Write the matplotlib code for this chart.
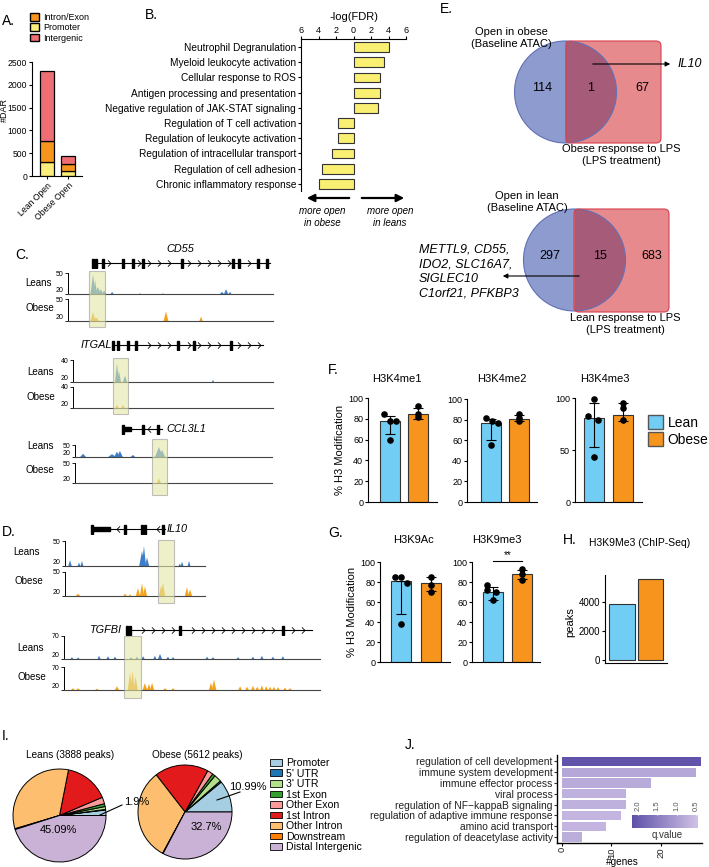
import numpy as np
import matplotlib
matplotlib.use('Agg')
import matplotlib.pyplot as plt
from matplotlib.patches import Patch, Rectangle, Circle, Wedge, FancyBboxPatch
from matplotlib.path import Path
from matplotlib.colors import LinearSegmentedColormap, Normalize
from matplotlib.cm import ScalarMappable

plt.rcParams['font.family'] = ['Liberation Sans', 'DejaVu Sans']
plt.rcParams['axes.linewidth'] = 0.8

W, H = 709, 867

# ---------------- data ----------------
# A: differentially accessible regions
dar_groups = ['Lean Open', 'Obese Open']
dar_promoter = [300, 100]
dar_intron_exon = [460, 160]
dar_intergenic = [1550, 180]

# B: pathway enrichment (positive = more open in leans)
go_terms = ['Neutrophil Degranulation', 'Myeloid leukocyte activation',
            'Cellular response to ROS', 'Antigen processing and presentation',
            'Negative regulation of JAK-STAT signaling',
            'Regulation of T cell activation', 'Regulation of leukocyte activation',
            'Regulation of intracellular transport', 'Regulation of cell adhesion',
            'Chronic inflammatory response']
go_logfdr = [4.1, 3.5, 3.05, 3.05, 2.8, -1.8, -1.75, -2.5, -3.6, -4.0]

# E: venn counts (baseline only, shared, LPS only)
venn_obese = [114, 1, 67]
venn_lean = [297, 15, 683]
obese_shared_genes = ['IL10']
lean_shared_genes = ['METTL9, CD55,', 'IDO2, SLC16A7,', 'SIGLEC10', 'C1orf21, PFKBP3']

# C/D: coverage peaks (position % of locus, height, half width)
cd55_exons = [13.7, 17.1, 26.8, 31.7, 36.6, 55.6, 80.5, 83.4, 92.7, 97.1]
cd55_leans = [(12.2, 48, 1.2), (13.2, 40, 1.0), (14.6, 30, 1.5), (16.1, 27, 1.0),
              (17.6, 25, 1.0), (21.5, 23, 0.7), (35.1, 21, 0.4), (46.3, 21, 0.4),
              (75.1, 23, 1.0), (77.1, 27, 1.0), (79.0, 23, 0.7)]
cd55_obese = [(12.2, 32, 1.2), (13.7, 25, 1.5), (47.8, 33, 1.2), (64.9, 26, 0.8)]

itgal_exons = [22.5, 27.5, 31.5, 52.5, 60.5, 79.0]
itgal_leans = [(22.0, 37, 1.0), (23.0, 30, 1.0), (26.0, 26, 1.0), (70.0, 22, 0.5)]
itgal_obese = [(22.0, 23, 0.8), (25.0, 23, 0.8)]

ccl3l1_exons = [34.5, 42.1]
ccl3l1_leans = [(4.1, 28, 1.5), (18.8, 27, 2.0), (21.3, 33, 1.5), (22.8, 35, 1.5),
                (29.4, 25, 1.2), (42.6, 45, 2.0), (44.2, 38, 1.5)]
ccl3l1_obese = [(42.6, 27, 1.0)]

il10_exons = [42.9, 55.0, 57.1, 70.0]
il10_leans = [(3.6, 27, 1.2), (10.0, 24, 1.0), (12.1, 26, 1.0), (55.0, 38, 2.0),
              (56.4, 44, 1.5), (58.6, 30, 1.5), (82.0, 23, 0.8), (83.6, 25, 1.0),
              (88.6, 26, 1.0)]
il10_obese = [(9.3, 23, 1.5), (42.9, 23, 1.2), (46.4, 22, 1.0), (52.1, 30, 1.5),
              (55.0, 36, 1.5), (57.1, 32, 1.5), (68.6, 33, 1.5), (70.0, 37, 1.5),
              (87.1, 31, 1.5), (89.3, 28, 1.5)]

tgfbi_exons = [25.8, 45.3, 85.5]
tgfbi_leans = [(3.1, 24, .6), (5.5, 23, .6), (13.7, 27, .6), (17.2, 26, .6), (19.9, 25, .6),
               (26.2, 24, .6), (28.5, 25, .6), (30.9, 26, .6), (35.5, 27, .6), (37.5, 31, .8),
               (40.6, 25, .6), (42.6, 24, .6), (55.9, 25, .6), (58.2, 24, .6), (68.0, 24, .6),
               (73.8, 25, .6), (77.3, 27, .6), (81.6, 25, .6), (85.5, 26, .6)]
tgfbi_obese = [(3.5, 24, .7), (5.5, 24, .7), (12.9, 23, .7), (20.7, 28, .8), (25.8, 58, .9),
               (26.8, 62, .8), (28.0, 50, .8), (31.6, 35, .9), (33.2, 33, .8), (34.4, 36, .8),
               (39.5, 24, .7), (42.6, 24, .7), (57.4, 36, .8), (58.6, 43, .9), (68.8, 28, .7),
               (71.5, 27, .7), (73.8, 29, .7), (75.5, 27, .7), (77.3, 30, .7), (79.0, 28, .7),
               (80.5, 27, .7), (82.0, 27, .7), (83.6, 26, .7), (86.3, 25, .7), (88.3, 24, .7)]

# F/G: histone modification
h3_marks = ['H3K4me1', 'H3K4me2', 'H3K4me3', 'H3K9Ac', 'H3K9me3']
lean_mean = [78, 77, 80.5, 81, 70]
lean_lo = [65, 60, 52.5, 48, 62]
lean_hi = [83, 81, 95, 81, 75]
obese_mean = [84.5, 81, 84, 79, 88]
obese_lo = [80, 79, 78, 71, 83]
obese_hi = [90, 84, 95, 85, 92]
lean_pts = [[85, 78, 78, 60], [82, 79, 77, 55], [99, 83, 79, 43], [85, 85, 79, 38], [77, 72, 70, 62]]
obese_pts = [[92, 85, 82], [85, 82, 79], [95, 90, 79], [85, 77, 70], [93, 88, 82]]
lean_jitter = [[-0.22, 0, 0.22, 0], [-0.2, 0.05, 0.25, 0], [0, -0.2, 0.15, 0],
               [-0.2, 0, 0.2, 0], [-0.2, -0.2, 0.1, 0]]

# H: ChIP-seq peaks
chip_groups = ['Lean', 'Obese']
chip_peaks = [3888, 5612]

# I: peak annotation
pie_labels = ['Promoter', "5' UTR", "3' UTR", '1st Exon', 'Other Exon', '1st Intron',
              'Other Intron', 'Downstream', 'Distal Intergenic']
lean_share = [1.9, 0.2, 1.0, 1.0, 2.3, 15.5, 32.7, 0.3, 45.09]
obese_share = [10.99, 0.5, 2.5, 1.0, 2.0, 18.5, 31.6, 0.2, 32.7]

# J: GO enrichment
j_terms = ['regulation of cell development', 'immune system development',
           'immune effector process', 'viral process',
           'regulation of NF\u2212kappaB signaling', 'regulation of adaptive immune response',
           'amino acid transport', 'regulation of deacetylase activity']
j_genes = [28, 27, 18, 13, 13, 12, 9, 4]
j_qvalue = [2.1, 0.85, 0.8, 0.7, 0.7, 0.65, 0.65, 0.75]

# ---------------- colours ----------------
c_intron, c_prom, c_inter = '#F7941D', '#FCEE7A', '#EE6E73'
c_lean, c_obese = '#72CDF4', '#F7941D'
c_leans_trk, c_obese_trk = '#3D7EC6', '#F5A31E'
pie_colors = ['#A6CEE3', '#1F78B4', '#B2DF8A', '#33A02C', '#FB9A99', '#E31A1C',
              '#FDBF6F', '#FF7F00', '#CAB2D6']

fig = plt.figure(figsize=(W / 100, H / 100), dpi=100)


def px_axes(x0, y0, x1, y1):
    return fig.add_axes([x0 / W, 1 - y1 / H, (x1 - x0) / W, (y1 - y0) / H])


bg = fig.add_axes([0, 0, 1, 1])
bg.set_xlim(0, W)
bg.set_ylim(H, 0)
bg.axis('off')
bg.set_zorder(10)
bg.patch.set_alpha(0)

for letter, x, y in [('A.', 2, 21), ('B.', 145, 15), ('C.', 15, 255), ('D.', 2, 532),
                     ('E.', 440, 9), ('F.', 328, 370), ('G.', 328, 533), ('H.', 563, 540),
                     ('I.', 2, 736), ('J.', 405, 745)]:
    bg.text(x, y, letter, fontsize=10, ha='left', va='center')

# ---------------- A ----------------
axA = px_axes(32, 62, 82, 176)
xa = np.arange(len(dar_groups))
kw = dict(width=0.67, edgecolor='k', linewidth=0.9)
axA.bar(xa, dar_promoter, color=c_prom, **kw)
axA.bar(xa, dar_intron_exon, bottom=dar_promoter, color=c_intron, **kw)
axA.bar(xa, dar_intergenic, bottom=np.add(dar_promoter, dar_intron_exon), color=c_inter, **kw)
axA.set_xlim(-0.714, 1.667)
axA.set_ylim(0, 2500)
axA.set_yticks(range(0, 2501, 500))
axA.set_xticks(xa)
axA.set_xticklabels(dar_groups, rotation=45, ha='right', rotation_mode='anchor')
axA.tick_params(labelsize=6.2, length=2.5, pad=1)
axA.spines[['top', 'right']].set_visible(False)
bg.text(4, 110, '#DAR', fontsize=6.5, rotation=90, ha='center', va='center')
axA.legend(handles=[Patch(fc=c_intron, ec='k'), Patch(fc=c_prom, ec='k'), Patch(fc=c_inter, ec='k')],
           labels=['Intron/Exon', 'Promoter', 'Intergenic'], loc='upper left',
           bbox_to_anchor=(30 / W, 1 - 13 / H), bbox_transform=fig.transFigure,
           frameon=False, fontsize=6.5, handlelength=1.0, handleheight=0.9,
           handletextpad=0.5, labelspacing=0.15, borderpad=0, borderaxespad=0)

# ---------------- B ----------------
axB = px_axes(301, 39, 406, 191)
yb = np.arange(len(go_terms))
axB.barh(yb, go_logfdr, height=0.65, color='#F8EF73', edgecolor='#333', linewidth=0.8)
axB.set_xlim(-6, 6)
axB.set_ylim(len(go_terms) - 0.53, -0.53)
axB.xaxis.tick_top()
axB.set_xticks(range(-6, 7, 2))
axB.set_xticklabels([str(abs(v)) for v in range(-6, 7, 2)])
axB.set_yticks(yb)
axB.set_yticklabels(go_terms)
axB.tick_params(axis='y', labelsize=7.3, length=2.5, pad=1)
axB.tick_params(axis='x', labelsize=6.5, length=2.5, pad=0.5)
axB.spines[['bottom', 'right']].set_visible(False)
bg.text(354, 17, '-log(FDR)', fontsize=8, ha='center', va='center')
bg.annotate('', xy=(304, 198), xytext=(352, 198),
            arrowprops=dict(arrowstyle='-|>', lw=1.6, color='k', mutation_scale=11))
bg.annotate('', xy=(407, 198), xytext=(359, 198),
            arrowprops=dict(arrowstyle='-|>', lw=1.6, color='k', mutation_scale=11))
bg.text(322, 217, 'more open\nin obese', fontsize=7, style='italic', ha='center', va='center',
        linespacing=1.2)
bg.text(390, 217, 'more open\nin leans', fontsize=7, style='italic', ha='center', va='center',
        linespacing=1.2)

# ---------------- C / D tracks ----------------
chev_r = Path([(-0.5, 1), (0.5, 0), (-0.5, -1)], [Path.MOVETO, Path.LINETO, Path.LINETO])
chev_l = Path([(0.5, 1), (-0.5, 0), (0.5, -1)], [Path.MOVETO, Path.LINETO, Path.LINETO])


def gene_model(x0, x1, y, span, exons, strand, thick=None):
    ax = px_axes(x0, y - 6, x1, y + 6)
    ax.set_xlim(0, 100)
    ax.set_ylim(-1, 1)
    ax.axis('off')
    ppu = (x1 - x0) / 100.0
    ax.plot(span, [0, 0], color='k', lw=0.8)
    chev = chev_r if strand == '+' else chev_l
    for c in np.arange(span[0] + 6 / ppu, span[1] - 3 / ppu, 10 / ppu):
        if min(abs(c - e) for e in exons) > 4 / ppu and not (thick and thick[0] - 2 < c < thick[1] + 3 / ppu):
            ax.plot(c, 0, marker=chev, ms=4.5, mec='k', mfc='none', mew=0.6)
    for e in exons:
        ax.add_patch(Rectangle((e - 1.3 / ppu, -0.75), 2.6 / ppu, 1.5, color='k'))
    ax.add_patch(Rectangle((span[0] - 0.8 / ppu, -0.75), 1.6 / ppu, 1.5, color='k'))
    if thick:
        ax.add_patch(Rectangle((thick[0], -0.4), thick[1] - thick[0], 0.8, color='k'))


def coverage(x0, x1, y_top, y_base, lims, peaks, color, name, name_xy):
    ax = px_axes(x0, y_top, x1, y_base)
    lo, hi = lims
    ax.set_xlim(0, 100)
    ax.set_ylim(lo, hi)
    for p, h, w in peaks:
        ax.fill([p - w, p, p + w], [lo, h, lo], color=color, lw=0)
    ax.spines[['top', 'right']].set_visible(False)
    ax.spines['left'].set_linewidth(0.7)
    ax.spines['bottom'].set_color('#444')
    ax.set_xticks([])
    ax.set_yticks([lo, hi])
    ax.tick_params(labelsize=5, length=2, pad=1, width=0.6)
    ax.get_yticklabels()[0].set_verticalalignment('bottom')
    bg.text(name_xy[0], name_xy[1], name, fontsize=7, ha='center', va='center')


def highlight(x0, x1, y0, y1):
    bg.add_patch(Rectangle((x0, y0), x1 - x0, y1 - y0, fc='#E3E7A6', ec='#999', lw=0.8, alpha=0.6))


# CD55
gene_model(68, 273, 263, (12.2, 98.5), cd55_exons, '+')
bg.text(180, 249, 'CD55', fontsize=7.8, style='italic', ha='center', va='center')
coverage(68, 273, 273, 294, (20, 50), cd55_leans, c_leans_trk, 'Leans', (38, 283))
coverage(68, 273, 299, 321, (20, 50), cd55_obese, c_obese_trk, 'Obese', (40, 308))
highlight(89, 105, 271, 327)

# ITGAL
gene_model(73, 273, 345, (20, 95), itgal_exons, '+')
bg.text(112, 345, 'ITGAL', fontsize=7.8, style='italic', ha='right', va='center')
coverage(73, 273, 360, 382, (20, 40), itgal_leans, c_leans_trk, 'Leans', (41, 372))
coverage(73, 273, 387, 408, (20, 40), itgal_obese, c_obese_trk, 'Obese', (41, 397))
highlight(113, 128, 358, 414)

# CCL3L1
gene_model(75, 272, 429, (24.4, 44.2), ccl3l1_exons, '-', thick=(24.4, 28.4))
bg.text(166, 429, 'CCL3L1', fontsize=7.8, style='italic', ha='left', va='center')
coverage(75, 272, 445, 457, (20, 50), ccl3l1_leans, c_leans_trk, 'Leans', (40, 446))
coverage(75, 272, 463, 483, (20, 50), ccl3l1_obese, c_obese_trk, 'Obese', (40, 470))
highlight(152, 167, 439, 495)

# IL10
gene_model(65, 205, 529, (19.3, 71.4), il10_exons, '-', thick=(19.3, 32.1))
bg.text(167, 529, 'IL10', fontsize=7.8, style='italic', ha='left', va='center')
coverage(65, 205, 541, 566, (20, 50), il10_leans, c_leans_trk, 'Leans', (27, 552))
coverage(65, 205, 572, 596, (20, 50), il10_obese, c_obese_trk, 'Obese', (29, 581))
highlight(158, 174, 540, 603)

# TGFBI
gene_model(64, 320, 630, (24.6, 96.9), tgfbi_exons, '+')
bg.text(121, 630, 'TGFBI', fontsize=7.8, style='italic', ha='right', va='center')
coverage(64, 320, 636, 659, (20, 70), tgfbi_leans, c_leans_trk, 'Leans', (31, 648))
coverage(64, 320, 667, 690, (20, 70), tgfbi_obese, c_obese_trk, 'Obese', (32, 677))
highlight(124, 141, 636, 698)

# ---------------- E: venn ----------------
def venn(cx, cy, r, rect, counts, top_label, bottom_label, top_xy, bottom_xy, count_x):
    rx0, rx1, ry0, ry1 = rect
    bg.add_patch(Circle((cx, cy), r, fc='#8E9BCF', ec='none'))
    bg.add_patch(FancyBboxPatch((rx0, ry0), rx1 - rx0, ry1 - ry0,
                                boxstyle='round,pad=0,rounding_size=5', fc='#E68A8E', ec='none'))
    bg.add_patch(Wedge((cx, cy), r, -90, 90, fc='#A65C78', ec='none'))
    bg.add_patch(Circle((cx, cy), r, fc='none', ec='#6170B5', lw=0.8))
    bg.add_patch(FancyBboxPatch((rx0, ry0), rx1 - rx0, ry1 - ry0,
                                boxstyle='round,pad=0,rounding_size=5', fc='none', ec='#D8404E', lw=0.8))
    for v, x in zip(counts, count_x):
        bg.text(x, cy - 4, str(v), fontsize=9, ha='center', va='center')
    bg.text(top_xy[0], top_xy[1], top_label, fontsize=8, ha='center', va='center', linespacing=1.15)
    bg.text(bottom_xy[0], bottom_xy[1], bottom_label, fontsize=8, ha='center', va='center',
            linespacing=1.15)


venn(565.5, 92, 51, (566, 661, 41, 143), venn_obese, 'Open in obese\n(Baseline ATAC)',
     'Obese response to LPS\n(LPS treatment)', (511, 38), (621, 155), (542, 591, 642))
bg.annotate('', xy=(673, 64), xytext=(590, 64),
            arrowprops=dict(arrowstyle='-|>', lw=0.8, color='k', mutation_scale=7))
bg.text(678, 64, obese_shared_genes[0], fontsize=9, style='italic', ha='left', va='center')

venn(574.5, 260, 51, (574, 669, 209, 312), venn_lean, 'Open in lean\n(Baseline ATAC)',
     'Lean response to LPS\n(LPS treatment)', (527, 202), (625, 324), (550, 600, 652))
bg.annotate('', xy=(500, 276), xytext=(582, 276),
            arrowprops=dict(arrowstyle='-|>', lw=0.8, color='k', mutation_scale=7))
for i, line in enumerate(lean_shared_genes):
    bg.text(419, 250 + 14.5 * i, line, fontsize=9, style='italic', ha='left', va='center')

# ---------------- F / G: histone bars ----------------
panel_axes = [(368, 437, 398, 502, 390, 418), (467, 537, 399, 502, 491, 518.5),
              (575, 642, 398, 502, 594, 622.5), (380, 450, 562, 662, 401, 431),
              (472, 540, 562, 662, 493, 522)]
title_pos = [(397, 379), (502, 379), (605, 379), (413, 540), (497, 540)]
h3_axes = []
for i, mark in enumerate(h3_marks):
    x0, x1, y0, y1, c0, c1 = panel_axes[i]
    unit = c1 - c0
    ax = px_axes(x0, y0, x1, y1)
    bw = 20 / unit
    ax.bar([0, 1], [lean_mean[i], obese_mean[i]], width=bw, color=[c_lean, c_obese],
           edgecolor='#333', linewidth=0.8, zorder=1)
    ax.errorbar([0], [lean_mean[i]], yerr=[[lean_mean[i] - lean_lo[i]], [lean_hi[i] - lean_mean[i]]],
                color='k', lw=0.8, capsize=3.5, capthick=0.8, zorder=2)
    ax.errorbar([1], [obese_mean[i]], yerr=[[obese_mean[i] - obese_lo[i]], [obese_hi[i] - obese_mean[i]]],
                color='k', lw=0.8, capsize=3.5, capthick=0.8, zorder=2)
    ax.scatter(np.array(lean_jitter[i]), lean_pts[i], s=14, color='k', zorder=3, clip_on=False)
    ax.scatter(np.ones(len(obese_pts[i])), obese_pts[i], s=14, color='k', zorder=3, clip_on=False)
    ax.set_xlim((x0 - c0) / unit, (x1 - c0) / unit)
    ax.set_ylim(0, 100)
    ax.set_yticks([0, 50, 100] if mark == 'H3K4me3' else range(0, 101, 20))
    ax.set_xticks([])
    ax.tick_params(labelsize=6.5, length=2.5, pad=1)
    ax.spines[['top', 'right']].set_visible(False)
    bg.text(title_pos[i][0], title_pos[i][1], mark, fontsize=8, ha='center', va='center')
    h3_axes.append(ax)

bg.text(340, 450, '% H3 Modification', fontsize=8, rotation=90, ha='center', va='center')
bg.text(352, 612, '% H3 Modification', fontsize=8, rotation=90, ha='center', va='center')
h3_axes[4].plot([0, 1], [101, 101], color='k', lw=0.8, clip_on=False)
h3_axes[4].text(0.5, 101.5, '**', fontsize=7, ha='center', va='bottom')

fig.legend(handles=[Patch(fc=c_lean, ec='#555'), Patch(fc=c_obese, ec='#555')],
           labels=['Lean', 'Obese'], loc='upper left', bbox_to_anchor=(648 / W, 1 - 415 / H),
           frameon=False, fontsize=10, handlelength=1.1, handleheight=1.15,
           handletextpad=0.3, labelspacing=0.2, borderpad=0, borderaxespad=0)

# ---------------- H ----------------
axH = px_axes(605, 575, 667, 663)
axH.bar([0, 1], chip_peaks, width=0.91, color=[c_lean, c_obese], edgecolor='#333', linewidth=0.8)
axH.set_xlim(-0.596, 1.579)
axH.set_ylim(-207, 5862)
axH.set_yticks([0, 2000, 4000])
axH.set_xticks([])
axH.tick_params(labelsize=7, length=2.5, pad=1)
axH.spines[['top', 'right']].set_visible(False)
bg.text(570, 622, 'peaks', fontsize=8, rotation=90, ha='center', va='center')
bg.text(640, 543, 'H3K9Me3 (ChIP-Seq)', fontsize=7.5, ha='center', va='center')

# ---------------- I: pies ----------------
pie_specs = [((13, 769, 106, 862), lean_share, 'Leans (3888 peaks)', (70, 755)),
             ((138, 765, 232, 859), obese_share, 'Obese (5612 peaks)', (197, 755))]
pie_axes = []
for box, share, title, txy in pie_specs:
    ax = px_axes(*box)
    ax.pie(share, colors=pie_colors, startangle=0, counterclock=True,
           wedgeprops=dict(edgecolor='k', linewidth=0.7))
    ax.set_xlim(-1, 1)
    ax.set_ylim(-1, 1)
    bg.text(txy[0], txy[1], title, fontsize=7.2, ha='center', va='center')
    pie_axes.append(ax)

bg.text(58, 830, f'{lean_share[-1]}%', fontsize=8, ha='center', va='center')
bg.text(206, 827, f'{obese_share[-1]}%', fontsize=8, ha='center', va='center')
bg.plot([100, 122], [815, 805], color='k', lw=0.8)
bg.text(124, 802, f'{lean_share[0]}%', fontsize=8, ha='left', va='center')
bg.plot([217, 240], [800, 792], color='k', lw=0.8)
bg.text(229, 787, f'{obese_share[0]}%', fontsize=8, ha='left', va='center')

fig.legend(handles=[Patch(fc=c, ec='k', lw=0.6) for c in pie_colors], labels=pie_labels,
           loc='upper left', bbox_to_anchor=(270 / W, 1 - 758 / H), frameon=False,
           fontsize=7.6, handlelength=1.1, handleheight=0.6, handletextpad=0.4,
           labelspacing=0.05, borderpad=0, borderaxespad=0)

# ---------------- J ----------------
cmap_q = LinearSegmentedColormap.from_list('q', ['#D0C2E6', '#5E50A8'])
norm_q = Normalize(0.45, 2.15)
axJ = px_axes(557, 755, 702, 843)
yj = np.arange(len(j_terms))
axJ.barh(yj, j_genes, height=0.85, color=cmap_q(norm_q(np.array(j_qvalue))))
axJ.set_ylim(len(j_terms) - 0.45, -0.6)
axJ.set_xlim(-1.0, 28.3)
axJ.set_yticks(yj)
axJ.set_yticklabels(j_terms)
axJ.set_xticks([0, 10, 20])
axJ.tick_params(axis='y', labelsize=7.4, length=2, pad=1, colors='#333', labelcolor='#222')
axJ.tick_params(axis='x', labelsize=6.8, length=2, pad=1, rotation=90, labelcolor='#222')
axJ.spines[['top', 'right']].set_visible(False)
axJ.spines[['left', 'bottom']].set_linewidth(1.0)
bg.text(622, 862, '#genes', fontsize=7.2, ha='center', va='center')

cax = px_axes(632, 815, 698, 828)
cb = fig.colorbar(ScalarMappable(norm=norm_q, cmap=cmap_q), cax=cax, orientation='horizontal')
cax.invert_xaxis()
cb.set_ticks([2.0, 1.5, 1.0, 0.5])
cb.outline.set_visible(False)
cax.xaxis.set_ticks_position('top')
cax.tick_params(labelsize=5.5, length=2, color='white', labelcolor='#555', rotation=90, pad=1)
bg.text(667, 835, 'q.value', fontsize=7, ha='center', va='center', color='#333')

fig.savefig('out.png', dpi=100)
